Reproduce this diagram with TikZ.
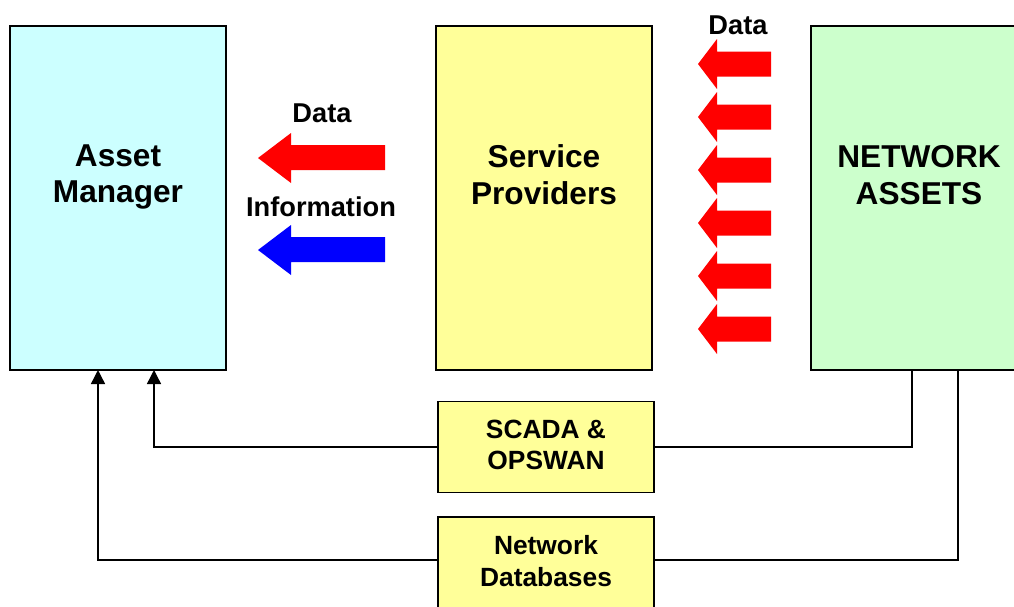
\documentclass[tikz,border=0pt]{standalone}
\usepackage{fontspec}
\setmainfont{Liberation Sans}
\usetikzlibrary{arrows.meta}

\definecolor{amcyan}{HTML}{CCFFFF}
\definecolor{spyellow}{HTML}{FFFF99}
\definecolor{nagreen}{HTML}{CCFFCC}

\tikzset{
  bigbox/.style={draw=black, line width=1pt, inner sep=0pt, minimum width=4.32cm, minimum height=6.88cm},
  smallbox/.style={draw=black, line width=1pt, fill=spyellow, inner sep=0pt, minimum width=4.32cm},
  boxtxt/.style={align=center, font=\bfseries\fontsize{15}{18}\selectfont},
  title/.style={align=center, font=\bfseries\fontsize{18}{21}\selectfont},
  lbl/.style={font=\bfseries\fontsize{15.5}{18}\selectfont},
  link/.style={line width=0.8pt},
  uplink/.style={line width=0.8pt, -{Triangle[width=8pt,length=8pt]}}
}

\begin{document}
\begin{tikzpicture}[x=0.02cm,y=-0.02cm]

\clip (0,0) rectangle (1014,606) ;
\fill[white] (0,0) rectangle (1014,606) ;

% grands blocs

\node[bigbox, fill=amcyan] (am) at (118,198) {} ;
\node[bigbox, fill=spyellow] (sp) at (544,198) {} ;
\node[bigbox, fill=nagreen, minimum width=5cm] (na) at (936,198) {} ;

\node[title] (amtxt) at (118,177) {Asset\\Manager} ;
\node[title] (sptxt) at (544,175) {Service\\Providers} ;
\node[title] (natxt) at (919,175) {NETWORK\\ASSETS} ;

% petits blocs

\node[smallbox, minimum height=1.82cm] (scada) at (546,447) {} ;
\node[smallbox, minimum height=1.96cm] (ndb) at (546,566) {} ;

\node[boxtxt] (scadatxt) at (546,445) {SCADA \&\\OPSWAN} ;
\node[boxtxt] (ndbtxt) at (546,561) {Network\\Databases} ;

% fleches vers Asset Manager

\node[lbl] (data1) at (322,113) {Data} ;
\node[lbl] (info) at (321,207) {Information} ;

\fill[red] (385,145) -- (291,145) -- (291,133) -- (258,158) -- (291,183) -- (291,170) -- (385,170) -- cycle ;
\fill[blue] (385,237) -- (291,237) -- (291,225) -- (258,250) -- (291,275) -- (291,262) -- (385,262) -- cycle ;

% fleches des actifs

\node[lbl] (data2) at (738,25) {Data} ;

\foreach \yc in {64,117,170,223,276,329}
  \fill[red] (771,\yc-12.5) -- (717,\yc-12.5) -- (717,\yc-25) -- (698,\yc) -- (717,\yc+25) -- (717,\yc+12.5) -- (771,\yc+12.5) -- cycle ;

% liaisons

\coordinate (amin1) at (154,370) ;
\coordinate (amin2) at (98,370) ;
\coordinate (naout1) at (912,370) ;
\coordinate (naout2) at (958,370) ;

\draw[uplink] (scada.west) -| (amin1) ;
\draw[uplink] (ndb.west |- 0,560) -| (amin2) ;
\draw[link] (scada.east) -| (naout1) ;
\draw[link] (ndb.east |- 0,560) -| (naout2) ;

\end{tikzpicture}
\end{document}
